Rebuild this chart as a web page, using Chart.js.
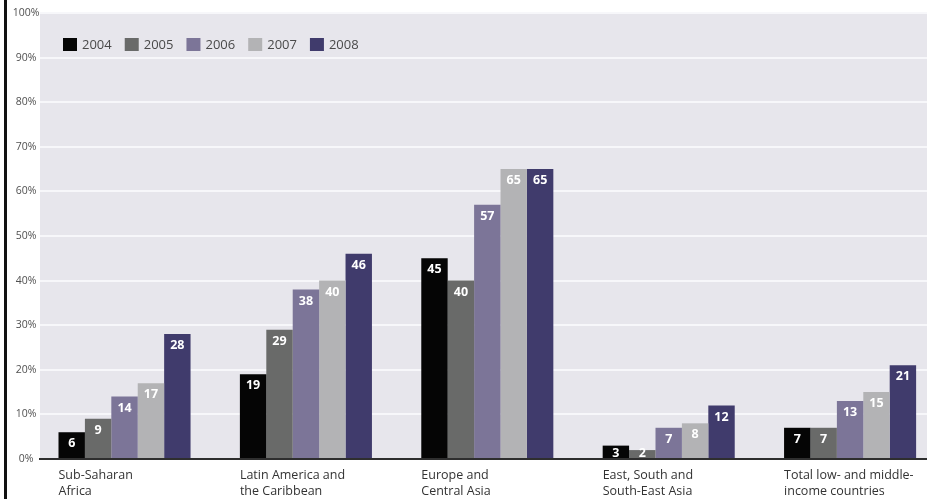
<!DOCTYPE html>
<html>
<head>
<meta charset="utf-8">
<script src="https://cdn.jsdelivr.net/npm/chart.js@4/dist/chart.umd.min.js"></script>
<style>
  html, body { margin: 0; padding: 0; background: #fff; overflow: hidden; }
  #wrap { position: relative; width: 927px; height: 499px; }
  #wrap canvas { position: absolute; left: 0; top: 0; }
  #edge { position: absolute; left: 4px; top: 0; width: 3px; height: 499px; background: #111; }
</style>
</head>
<body>
<div id="wrap">
  <canvas id="chart" width="927" height="499"></canvas>
  <div id="edge"></div>
</div>
<script>
// Regions along the horizontal axis (each label split over two lines)
const categories = [
  ['Sub-Saharan', 'Africa'],
  ['Latin America and', 'the Caribbean'],
  ['Europe and', 'Central Asia'],
  ['East, South and', 'South-East Asia'],
  ['Total low- and middle-', 'income countries']
];

// Years shown as series
const years = ['2004', '2005', '2006', '2007', '2008'];

// Coverage in percent, one value per region
const values2004 = [6, 19, 45, 3, 7];
const values2005 = [9, 29, 40, 2, 7];
const values2006 = [14, 38, 57, 7, 13];
const values2007 = [17, 40, 65, 8, 15];
const values2008 = [28, 46, 65, 12, 21];

// Vertical axis ticks
const yTickValues = [0, 10, 20, 30, 40, 50, 60, 70, 80, 90, 100];

const seriesValues = [values2004, values2005, values2006, values2007, values2008];
const seriesColors = ['#050505', '#696a69', '#7c7598', '#b3b3b5', '#403b6c'];

const FONT = "'Open Sans', 'DejaVu Sans', sans-serif";
const CAT_PCT = 0.728;

// Light plot background behind the bars
const plotBackground = {
  id: 'plotBackground',
  beforeDraw(chart) {
    const { ctx, chartArea: a } = chart;
    ctx.save();
    ctx.fillStyle = '#e7e6ec';
    ctx.fillRect(a.left, a.top - 1, a.right - a.left, a.bottom - a.top + 1);
    ctx.restore();
  }
};

// White value labels just inside the top of each bar
const valueLabels = {
  id: 'valueLabels',
  afterDatasetsDraw(chart) {
    const { ctx, chartArea: a } = chart;
    ctx.save();
    ctx.beginPath();
    ctx.rect(a.left, a.top, a.right - a.left, a.bottom - a.top - 1);
    ctx.clip();
    ctx.font = 'bold 12.5px ' + FONT;
    ctx.fillStyle = '#ffffff';
    ctx.textAlign = 'center';
    ctx.textBaseline = 'middle';
    chart.data.datasets.forEach((ds, di) => {
      const meta = chart.getDatasetMeta(di);
      meta.data.forEach((bar, i) => {
        const v = ds.data[i].y;
        const y = Math.min(bar.y + 11.5, bar.base - 5);
        ctx.fillText(String(v), bar.x, y);
      });
    });
    ctx.restore();
  }
};

// Legend row drawn inside the plot, top-left
const insideLegend = {
  id: 'insideLegend',
  afterDraw(chart) {
    const { ctx, chartArea: a } = chart;
    const boxW = 14, boxH = 13, gap = 5, spacing = 13;
    let x = a.left + 23;
    const y = a.top + 25;
    ctx.save();
    ctx.font = '13px ' + FONT;
    ctx.textBaseline = 'middle';
    ctx.textAlign = 'left';
    chart.data.datasets.forEach(ds => {
      ctx.fillStyle = ds.backgroundColor;
      ctx.fillRect(x, y, boxW, boxH);
      ctx.fillStyle = '#4a4a4a';
      ctx.fillText(ds.label, x + boxW + gap, y + boxH / 2 + 0.5);
      x += boxW + gap + ctx.measureText(ds.label).width + spacing;
    });
    ctx.restore();
  }
};

const datasets = years.map((year, k) => ({
  label: year,
  data: seriesValues[k].map((v, i) => ({ x: i, y: v })),
  backgroundColor: seriesColors[k],
  borderWidth: 0,
  categoryPercentage: CAT_PCT,
  barPercentage: 1.0
}));

new Chart(document.getElementById('chart'), {
  type: 'bar',
  data: { datasets },
  plugins: [plotBackground, valueLabels, insideLegend],
  options: {
    responsive: false,
    animation: false,
    devicePixelRatio: 1,
    layout: { padding: { top: 13, left: 0, right: 0, bottom: 0 } },
    plugins: {
      legend: { display: false },
      tooltip: { enabled: false }
    },
    scales: {
      x: {
        type: 'linear',
        min: -0.466,
        max: 4.424,
        offset: false,
        bounds: 'data',
        z: 1,
        grid: { display: false },
        border: { display: true, color: '#2e2e2e', width: 2 },
        afterBuildTicks: scale => {
          scale.ticks = categories.map((_, i) => ({ value: i - CAT_PCT / 2 }));
        },
        afterFit: scale => { scale.height = 40; },
        ticks: {
          autoSkip: false,
          maxRotation: 0,
          minRotation: 0,
          align: 'start',
          padding: 0,
          color: '#333333',
          font: { family: FONT, size: 12.5, lineHeight: 1.28 },
          callback: (value, index) => categories[index]
        }
      },
      y: {
        min: 0,
        max: 100,
        afterBuildTicks: scale => {
          scale.ticks = yTickValues.map(v => ({ value: v }));
        },
        afterFit: scale => { scale.width = 40; },
        grid: { color: '#f7f7fa', lineWidth: 2, drawTicks: false },
        border: { display: false },
        ticks: {
          padding: 0.5,
          crossAlign: 'center',
          color: '#505050',
          font: { family: FONT, size: 10.5 },
          callback: v => v + '%'
        }
      }
    }
  }
});
</script>
</body>
</html>
